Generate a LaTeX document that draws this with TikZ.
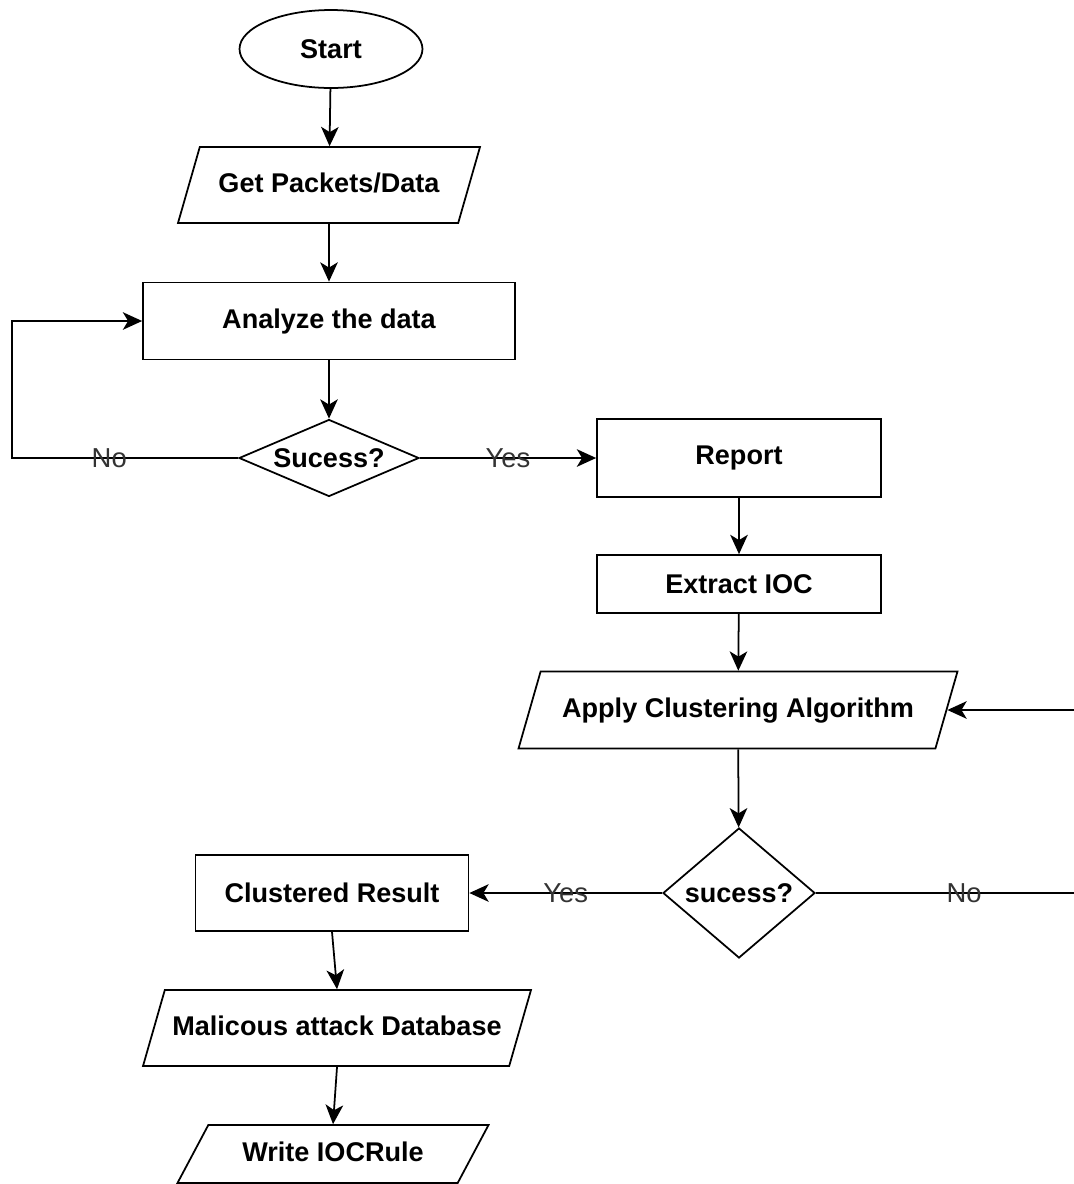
\documentclass[tikz,border=0pt]{standalone}
\usepackage{fontspec}
\setmainfont{Liberation Sans}
\usetikzlibrary{positioning,
				arrows.meta,
				shapes.geometric}

\begin{document}
\begin{tikzpicture}[x=0.02cm,y=-0.02cm,line width=1pt,
  every node/.style={font=\fontsize{15.4}{18}\selectfont\bfseries},
  box/.style={draw,rectangle,inner sep=0pt},
  io/.style={draw,trapezium,trapezium left angle=74,trapezium right angle=106,
             trapezium stretches body,inner xsep=0pt,text height=10.5pt,text depth=2.5pt},
  ask/.style={draw,diamond,inner sep=0pt},
  lbl/.style={font=\fontsize{15.6}{18}\selectfont,text=black!80,inner sep=0pt},
  go/.style={-{Stealth[length=11pt,width=10pt,inset=3pt]}}]
  \useasboundingbox (0,0) rectangle (1073,1184);
  \node[draw,ellipse,minimum width=3.66cm,minimum height=1.56cm] (start) at (331,49) {Start};
  \node[io,minimum width=6.04cm,inner ysep=0.53cm] (getdata) at (329,185) {Get Packets/Data};
  \node[box,minimum width=7.44cm,minimum height=1.54cm] (analyze) at (329,321) {Analyze the data};
  \node[ask,aspect=2.34,minimum width=3.6cm,minimum height=1.54cm] (check1) at (329,458) {Sucess?};
  \node[box,minimum width=5.68cm,minimum height=1.56cm] (report) at (739,458) {Report};
  \node[box,minimum width=5.68cm,minimum height=1.16cm] (extract) at (739,584) {Extract IOC};
  \node[io,minimum width=8.78cm,inner ysep=0.54cm] (cluster) at (738,710) {Apply Clustering Algorithm};
  \node[ask,aspect=1.17,minimum width=3.04cm,minimum height=2.6cm] (check2) at (739,893) {sucess?};
  \node[box,minimum width=5.46cm,minimum height=1.52cm] (result) at (332,893) {Clustered Result};
  \node[io,minimum width=7.76cm,inner ysep=0.53cm] (database) at (337,1028) {Malicous attack Database};
  \node[io,trapezium left angle=62,trapezium right angle=118,minimum width=6.22cm,inner ysep=0.35cm] (rule) at (333,1154) {Write IOCRule};
  % loop corners
  \coordinate (lc) at (12,458);
  \coordinate (lt) at (12,321);
  \coordinate (rc) at (1076,893);
  \coordinate (rt) at (1076,710);
  \draw[go](start)--(getdata);
  \draw[go](getdata)--(analyze);
  \draw[go](analyze)--(check1);
  \draw[go](check1.west)--node[lbl,pos=0.57]{No}(lc)--(lt)--(analyze.west);
  \draw[go](check1.east)--node[lbl]{Yes}(report.west);
  \draw[go](report)--(extract);
  \draw[go](extract)--(cluster);
  \draw[go](cluster)--(check2);
  \draw[go](check2.west)--node[lbl]{Yes}(result.east);
  \draw[go](check2.east)--node[lbl,pos=0.57]{No}(rc)--(rt)--(cluster.east);
  \draw[go](result.south)--(database.north);
  \draw[go](database.south)--(rule.north);
\end{tikzpicture}
\end{document}
